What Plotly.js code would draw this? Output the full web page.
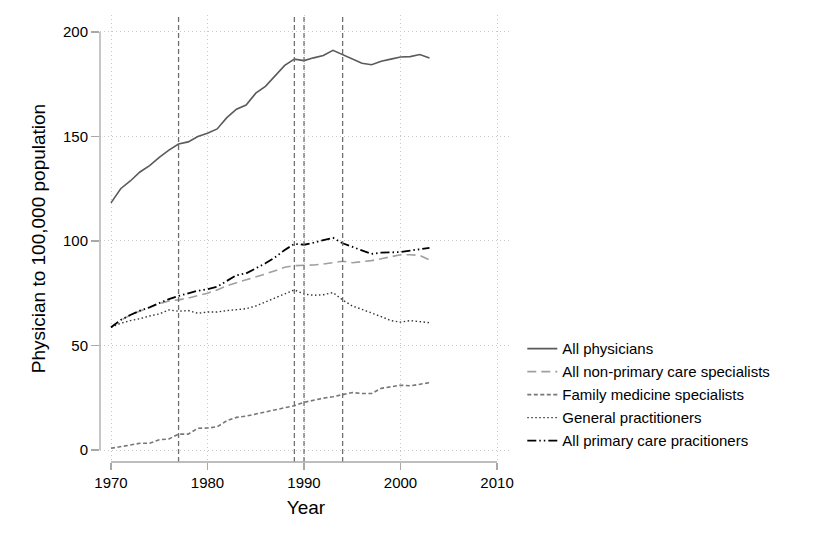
<!DOCTYPE html>
<html>
<head>
<meta charset="utf-8">
<script src="https://cdn.plot.ly/plotly-3.0.1.min.js"></script>
<style>html,body{margin:0;padding:0;background:#fff}#chart{width:817px;height:545px}</style>
</head>
<body>
<div id="chart"></div>
<script>
const years = [1970,1971,1972,1973,1974,1975,1976,1977,1978,1979,1980,1981,1982,1983,1984,1985,1986,1987,1988,1989,1990,1991,1992,1993,1994,1995,1996,1997,1998,1999,2000,2001,2002,2003];
const allPhysicians = [118.2,125,128.7,133,136,140,143.5,146.4,147.4,150,151.5,153.6,159,163,165,170.7,174,179,184,187,186.3,187.6,188.7,191.2,189,187,185,184.3,186,187,188,188.2,189.2,187.5];
const nonPrimary = [58.7,62,64.5,66.5,68,70,71.3,71.8,72.7,73.7,75,76.6,78.5,80,81.3,82.9,84.2,85.8,87.4,88.2,88.2,88.5,89,89.6,90.3,89.6,90,90.6,91.5,92.5,93.4,93.4,93.1,90.9];
const familyMed = [0.8,1.6,2.4,3.2,3.2,4.9,5.3,7.6,7.6,10.4,10.5,11.1,14,15.6,16.2,17.2,18.3,19.3,20.4,21.2,22.8,23.9,24.8,25.5,26.4,27.5,27,27,29.5,30.4,31,30.7,31.5,32.2];
const generalPract = [58.7,60.6,61.9,62.8,64.1,65.1,67,66.4,66.7,65.4,66,66,66.7,67.3,67.6,68.9,70.8,73,75,76.6,74.6,74,74.3,75.3,71.8,68.9,67.3,65.7,63.8,61.9,61.2,61.9,61.5,60.9];
const primaryCare = [58.7,62.2,64.6,66.7,68.3,70.2,72.2,73.7,75,76.2,76.9,78.1,80.9,83.6,84.5,86.9,89.3,92.2,95.7,98.6,98.2,99.2,100.2,101.5,98.9,97.3,95.4,93.8,94.4,94.4,94.7,95.4,96,96.7];
const seriesNames = ["All physicians","All non-primary care specialists","Family medicine specialists","General practitioners","All primary care pracitioners"];
const eventYears = [1977,1989,1990,1994];
const xTicks = [1970,1980,1990,2000,2010];
const yTicks = [0,50,100,150,200];

const styles = [
  {color:'#5a5a5a', width:1.6, dash:'solid'},
  {color:'#a0a0a0', width:1.6, dash:'9px,5px'},
  {color:'#777777', width:1.6, dash:'4px,2.5px'},
  {color:'#333333', width:1.4, dash:'1.5px,2.5px'},
  {color:'#000000', width:1.8, dash:'9px,3px,1.5px,3px,1.5px,3px'}
];
const series = [allPhysicians, nonPrimary, familyMed, generalPract, primaryCare];
const traces = series.map((s,i)=>({
  x: years, y: s, type:'scatter', mode:'lines', name: seriesNames[i],
  line: styles[i], legendgroup: 'g'+i
}));

const shapes = eventYears.map(yr=>({
  type:'line', xref:'x', yref:'paper', x0:yr, x1:yr, y0:0, y1:1,
  line:{color:'#707070', width:1.3, dash:'5px,3px'}
}));
// detached axis lines (Stata style)
shapes.push({type:'line', xref:'x', yref:'paper', x0:xTicks[0], x1:xTicks[xTicks.length-1], y0:0, y1:0, line:{color:'#a8a8a8', width:1.3}});
shapes.push({type:'line', xref:'paper', yref:'y', x0:0, x1:0, y0:yTicks[0], y1:yTicks[yTicks.length-1], line:{color:'#a8a8a8', width:1.3}});

const layout = {
  width:817, height:545,
  margin:{l:100, r:305, t:15, b:83},
  paper_bgcolor:'#fff', plot_bgcolor:'#fff',
  font:{family:'Liberation Sans, Arial, sans-serif', color:'#000', size:15},
  showlegend:true,
  legend:{x:1.025, y:0.29, xanchor:'left', yanchor:'top', font:{size:15}, tracegroupgap:0.5, itemwidth:30, bgcolor:'rgba(0,0,0,0)'},
  xaxis:{
    range:[1968.86, 2011.55], tickvals:xTicks, ticktext:xTicks.map(String),
    showgrid:true, gridcolor:'#c8c8c8', griddash:'1px,3px', gridwidth:1,
    zeroline:false, showline:false, ticks:'outside', ticklen:7, tickcolor:'#a8a8a8', tickwidth:1.3,
    tickfont:{size:15}, title:{text:'Year', font:{size:19}, standoff:10}
  },
  yaxis:{
    range:[-5.74, 208.1], tickvals:yTicks, ticktext:yTicks.map(String),
    showgrid:true, gridcolor:'#c8c8c8', griddash:'1px,3px', gridwidth:1,
    zeroline:false, showline:false, ticks:'outside', ticklen:8, tickcolor:'#a8a8a8', tickwidth:1.3,
    tickfont:{size:15}, title:{text:'Physician to 100,000 population', font:{size:19}, standoff:12}
  },
  shapes: shapes
};
Plotly.newPlot('chart', traces, layout, {displayModeBar:false, staticPlot:true});
</script>
</body>
</html>
